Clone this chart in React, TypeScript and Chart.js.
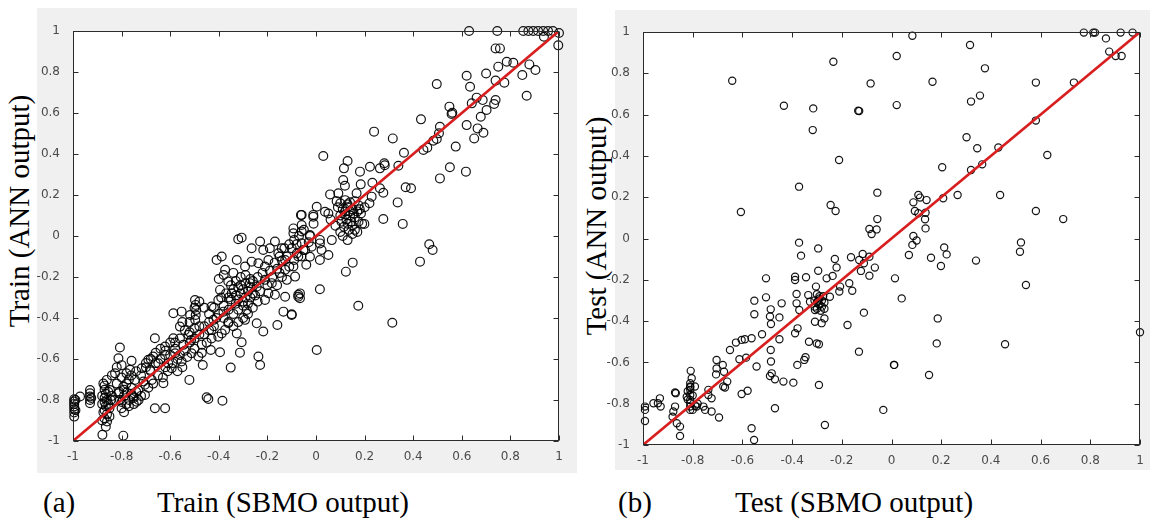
import React, { useEffect, useRef } from "react";
import { Chart, registerables } from "chart.js";

Chart.register(...registerables);

// ---------- DATA ----------
const tickValues = [-1, -0.8, -0.6, -0.4, -0.2, 0, 0.2, 0.4, 0.6, 0.8, 1];
const tickLabels = ["-1", "-0.8", "-0.6", "-0.4", "-0.2", "0", "0.2", "0.4", "0.6", "0.8", "1"];
const idealX = [-1, 1];
const idealY = [-1, 1];

// Train: SBMO output (x) vs ANN output (y)
const trainSBMO = [
  0.63, 0.746, 0.853, 0.874, 0.894, 0.914, 0.935, 0.955, 0.975, 1.0,
  0.938, 0.997, 0.739, 0.757, 0.785, 0.812, 0.75, 0.7, 0.878, 0.903, 0.849, 0.62, 0.739, 0.775, 0.634, 0.497, 0.867, 0.661, 0.686, 0.641,
  0.739, 0.733, 0.702, 0.678, 0.549, 0.561, 0.558, 0.432, 0.62, 0.665, 0.689, 0.651, 0.51, 0.506, 0.497, 0.483, 0.239, 0.316, 0.458, 0.442,
  0.575, 0.362, 0.03, 0.13, 0.115, 0.181, 0.222, 0.263, 0.281, 0.283, 0.339, 0.551, 0.617, 0.51, 0.112, 0.119, 0.184, 0.232, 0.263, 0.369,
  0.391, 0.058, 0.092, 0.277, 0.229, 0.167, 0.336,
  0.085, 0.1, 0.12, 0.14, 0.16, 0.175, 0.09, 0.11, 0.13, 0.15, 0.17, 0.185, 0.1, 0.12, 0.14, 0.16, 0.125, 0.145, 0.13, 0.15,
  0.115, 0.135, 0.16, 0.175, 0.19, 0.105, 0.14, 0.13, 0.155, 0.12,
  0.037, 0.051, -0.011, -0.062, -0.059, -0.093, 0.277, 0.199, 0.357, -0.025, 0.016, 0.065, 0.023, 0.051, -0.025, -0.052, -0.079, -0.09, 0.466, 0.48,
  0.428, 0.151, 0.123, 0.016, -0.066, -0.073, 0.174, -0.1, 0.314, 0.003,
  0.003, -0.011, -0.059, -0.025, -0.093, -0.059, 0.016, -0.059, -0.018, -0.045, -0.073, 0.016, -0.093, -0.086, -0.12, -0.073, -0.066, -0.127, -0.134, -0.1,
  -0.159, -0.127, -0.127, -0.155, -0.141, -0.169, -0.196, -0.21, -0.237, -0.265, -0.217, -0.23, -0.265, -0.292, -0.306, -0.32, -0.326, -0.21, -0.182, -0.196,
  -0.21, -0.169, -0.244, -0.272, -0.285, -0.292, -0.244, -0.217, -0.237, -0.23, -0.409, -0.388, -0.374, -0.361, -0.347, -0.395, -0.402, -0.43, -0.381, -0.422,
  -0.361, -0.43, -0.374, -0.388, -0.402, -0.326, -0.306, -0.313, -0.433, -0.395, -0.351, -0.466, -0.484, -0.45, -0.443, -0.385,
  -0.34, -0.32, -0.3, -0.28, -0.33, -0.31, -0.29, -0.27, -0.35, -0.32, -0.3, -0.28, -0.26, -0.31, -0.29, -0.33, -0.36, -0.27,
  -0.498, -0.495, -0.493, -0.495, -0.497, -0.5,
  -0.587, -0.553, -0.56, -0.518, -0.546, -0.525, -0.514, -0.512, -0.521, -0.663, -0.621, -0.621, -0.587, -0.58, -0.553, -0.594, -0.608, -0.649, -0.628, -0.676,
  -0.683, -0.717, -0.69, -0.67, -0.663, -0.621, -0.704, -0.738, -0.731, -0.704, -0.745, -0.759, -0.765, -0.807, -0.813, -0.827, -0.861, -0.848, -0.779, -0.752,
  -0.807, -0.813, -0.793, -0.879, -0.793,
  -0.78, -0.76, -0.79, -0.77, -0.75, -0.8, -0.78, -0.76, -0.79, -0.74, -0.77, -0.8,
  -0.87, -0.87, -0.865, -0.87, -0.86, -0.87, -0.865, -0.87, -0.86, -0.87, -0.86, -0.855, -0.85, -0.855,
  -0.93, -0.93, -0.93, -0.93, -0.93, -0.925,
  -0.995, -0.995, -0.995, -0.995, -0.995, -0.995, -0.995, -0.971, -0.99, -0.99,
  -0.72, -0.7, -0.68, -0.66, -0.64, -0.62, -0.6, -0.58, -0.56, -0.54, -0.52, -0.5, -0.48, -0.46, -0.44, -0.6, -0.64, -0.57, -0.53, -0.47,
  -0.42, -0.4, -0.38, -0.36, -0.34, -0.32, -0.3, -0.26, -0.24, -0.22, -0.2, -0.18, -0.16, -0.14, -0.12, -0.1, -0.08, -0.06, -0.16, -0.14,
  -0.82, -0.81, -0.8, -0.79, -0.77, -0.75, -0.73, -0.72, -0.83, -0.84,
  -0.875, -0.88, -0.88, -0.875, -0.88, -0.865, -0.85, -0.845,
  -0.84, -0.82, -0.8, -0.78, -0.76, -0.74,
  -0.71, -0.69, -0.67, -0.65, -0.63, -0.61, -0.59, -0.57, -0.55, -0.66, -0.62, -0.58, -0.7, -0.68, -0.56,
  -0.54, -0.52, -0.5, -0.48, -0.46, -0.44, -0.42, -0.5, -0.47, -0.45, -0.43, -0.41, -0.44, -0.46, -0.48, -0.52, -0.55,
  -0.39, -0.37, -0.35, -0.33, -0.31, -0.29, -0.27, -0.25, -0.23, -0.26, -0.24, -0.38, -0.36, -0.34, -0.3, -0.28, -0.32, -0.4, -0.38, -0.34,
  -0.19, -0.17, -0.15, -0.13, -0.11, -0.09, -0.07, -0.05, -0.03, -0.01, -0.15, -0.11, -0.19, -0.04,
  0.1, 0.11, 0.13, 0.15, 0.17, 0.18, 0.2, 0.22, 0.06, 0.08,
];
const trainANN = [
  1.0, 1.0, 1.0, 1.0, 1.0, 1.0, 1.0, 1.0, 1.0, 0.99,
  0.972, 0.93, 0.915, 0.915, 0.85, 0.845, 0.826, 0.793, 0.837, 0.81, 0.785, 0.782, 0.758, 0.748, 0.728, 0.741, 0.684, 0.675, 0.663, 0.647,
  0.663, 0.644, 0.615, 0.582, 0.631, 0.601, 0.595, 0.569, 0.541, 0.525, 0.504, 0.476, 0.533, 0.501, 0.473, 0.465, 0.509, 0.476, 0.431, 0.42,
  0.436, 0.406, 0.39, 0.366, 0.33, 0.314, 0.338, 0.33, 0.355, 0.345, 0.343, 0.335, 0.314, 0.281, 0.273, 0.245, 0.252, 0.26, 0.233, 0.238,
  0.233, 0.203, 0.208, 0.211, 0.192, 0.208, 0.164,
  0.17, 0.16, 0.175, 0.165, 0.17, 0.15, 0.14, 0.13, 0.14, 0.13, 0.12, 0.11, 0.1, 0.105, 0.1, 0.09, 0.08, 0.07, 0.06, 0.05,
  0.045, 0.03, 0.03, 0.07, 0.06, 0.07, 0.12, 0.155, 0.11, 0.12,
  0.118, 0.11, 0.094, 0.102, 0.054, 0.037, 0.083, 0.059, 0.059, 0.0, -0.036, -0.02, -0.068, -0.093, -0.101, -0.068, -0.085, -0.117, -0.04, -0.068,
  -0.125, -0.13, -0.174, -0.26, -0.28, -0.296, -0.34, -0.382, -0.423, -0.556,
  0.143, 0.103, 0.103, 0.005, 0.013, 0.022, -0.019, -0.035, -0.052, -0.068, -0.1, -0.117, -0.149, -0.198, -0.214, -0.287, -0.304, -0.296, -0.369, -0.385,
  -0.434, -0.165, -0.117, -0.084, -0.06, -0.027, -0.117, -0.149, -0.133, -0.125, -0.068, -0.027, -0.06, -0.149, -0.008, -0.016, -0.117, -0.214, -0.23, -0.279,
  -0.312, -0.287, -0.247, -0.23, -0.361, -0.409, -0.426, -0.466, -0.588, -0.629, -0.117, -0.1, -0.165, -0.222, -0.279, -0.263, -0.312, -0.344, -0.369, -0.409,
  -0.426, -0.458, -0.458, -0.475, -0.491, -0.475, -0.518, -0.569, -0.556, -0.567, -0.642, -0.629, -0.588, -0.787, -0.795, -0.804,
  -0.26, -0.25, -0.26, -0.27, -0.29, -0.28, -0.3, -0.3, -0.31, -0.31, -0.32, -0.33, -0.28, -0.24, -0.23, -0.33, -0.3, -0.25,
  -0.312, -0.336, -0.361, -0.385, -0.409, -0.35,
  -0.377, -0.369, -0.442, -0.385, -0.531, -0.482, -0.507, -0.572, -0.702, -0.499, -0.539, -0.58, -0.499, -0.572, -0.612, -0.645, -0.621, -0.621, -0.718, -0.702,
  -0.653, -0.645, -0.604, -0.588, -0.84, -0.84, -0.775, -0.808, -0.751, -0.726, -0.702, -0.609, -0.653, -0.544, -0.596, -0.67, -0.702, -0.751, -0.764, -0.783,
  -0.8, -0.767, -0.735, -0.97, -0.974,
  -0.72, -0.74, -0.78, -0.8, -0.79, -0.81, -0.82, -0.77, -0.75, -0.76, -0.7, -0.69,
  -0.73, -0.75, -0.77, -0.79, -0.8, -0.81, -0.83, -0.85, -0.87, -0.89, -0.905, -0.76, -0.84, -0.82,
  -0.751, -0.767, -0.783, -0.8, -0.816, -0.79,
  -0.796, -0.808, -0.819, -0.832, -0.845, -0.861, -0.881, -0.783, -0.8, -0.85,
  -0.68, -0.64, -0.66, -0.62, -0.6, -0.64, -0.58, -0.55, -0.5, -0.56, -0.47, -0.5, -0.44, -0.48, -0.42, -0.52, -0.55, -0.6, -0.59, -0.53,
  -0.35, -0.38, -0.34, -0.36, -0.38, -0.36, -0.34, -0.22, -0.2, -0.18, -0.24, -0.2, -0.16, -0.12, -0.1, -0.06, -0.04, -0.1, -0.24, -0.2,
  -0.72, -0.76, -0.84, -0.86, -0.83, -0.82, -0.8, -0.78, -0.8, -0.78,
  -0.72, -0.78, -0.82, -0.86, -0.9, -0.93, -0.88, -0.8,
  -0.68, -0.64, -0.63, -0.67, -0.68, -0.66,
  -0.71, -0.74, -0.72, -0.68, -0.69, -0.66, -0.62, -0.66, -0.64, -0.57, -0.56, -0.52, -0.62, -0.6, -0.58,
  -0.46, -0.42, -0.45, -0.48, -0.44, -0.46, -0.44, -0.55, -0.57, -0.52, -0.5, -0.4, -0.38, -0.35, -0.32, -0.52, -0.42,
  -0.3, -0.28, -0.24, -0.22, -0.2, -0.19, -0.21, -0.29, -0.27, -0.35, -0.32, -0.4, -0.42, -0.44, -0.4, -0.38, -0.42, -0.21, -0.19, -0.18,
  -0.17, -0.13, -0.1, -0.06, -0.04, -0.02, 0.0, 0.03, -0.03, 0.06, -0.18, -0.15, -0.06, -0.14,
  0.02, 0.0, -0.02, 0.01, 0.02, 0.13, 0.14, 0.16, 0.08, 0.05,
];

// Test: SBMO output (x) vs ANN output (y)
const testSBMO = [
  -0.234, 0.021, -0.641, -0.084, -0.433, -0.315, -0.134, -0.13, 0.021, -0.317,
  -0.211, -0.372, -0.057, -0.606, -0.245, -0.225, -0.057, -0.089, -0.06, -0.08,
  -0.372, -0.364, -0.295, -0.228, -0.163, -0.116, -0.13, -0.089, -0.067, -0.123,
  -0.089, -0.111, 0.014, -0.295, -0.221, -0.261, -0.237, -0.17, -0.207, -0.21,
  -0.158, -0.248, -0.388, -0.388, -0.344, -0.304, -0.382, -0.382, -0.335, -0.328,
  -0.371, -0.308, -0.281, -0.308, -0.27, -0.177, -0.111, -0.442, -0.451, -0.505,
  -0.505, -0.552, -0.552, -0.486, -0.489, -0.485, -0.521, -0.451, -0.486, -0.485,
  -0.543, -0.482, -0.489, -0.469, -0.435, -0.395, -0.388, -0.378, -0.379, -0.351,
  -0.346, -0.332, -0.301, -0.292, -0.292, -0.268, -0.469, -0.563, -0.553, -0.131,
  0.01, -0.033, -0.603, -0.59, -0.563, -0.626, -0.65, -0.612, -0.585, -0.579,
  -0.603, -0.704, -0.679, -0.704, -0.706, -0.674, -0.677, -0.67, -0.661, -0.737,
  -0.737, -0.724, -0.694, -0.75, -0.724, -0.808, -0.804, -0.81, -0.81, -0.81,
  -0.81, -0.81, -0.81, -0.81, -0.81, -0.824, -0.791, -0.784, -0.757, -0.871,
  -0.868, -0.871, -0.878, -0.881, -0.864, -0.851, -0.851, -0.932, -0.929, -0.958,
  -0.94, -0.992, -0.992, -0.992,
  -0.3, -0.29, -0.28, -0.3, -0.29, -0.28, -0.27, -0.31, -0.3, -0.285,
  -0.29, -0.275, -0.31, -0.295, -0.27,
  -0.82, -0.8, -0.79, -0.8, -0.78, -0.82, -0.81,
  0.084, 0.316, 0.376, 0.165, 0.581, 0.734, 0.356, 0.32, 0.581, 0.302,
  0.345, 0.43, 0.627, 0.365, 0.32, 0.204, 0.108, 0.115, 0.088, 0.141,
  0.208, 0.266, 0.437, 0.094, 0.108, 0.137, 0.135, 0.137, 0.581, 0.691,
  0.088, 0.101, 0.084, 0.07, 0.212, 0.222, 0.159, 0.199, 0.34, 0.521,
  0.517, 0.041, 0.541, 0.186, 0.182, 0.457, 1.0, 0.011, 0.151,
  0.774, 0.812, 0.819, 0.922, 0.97, 0.863, 0.876, 0.902, 0.926,
];
const testANN = [
  0.856, 0.884, 0.764, 0.751, 0.643, 0.63, 0.619, 0.617, 0.646, 0.525,
  0.38, 0.251, 0.222, 0.128, 0.162, 0.133, 0.094, 0.046, 0.044, 0.022,
  -0.02, -0.083, -0.048, -0.099, -0.091, -0.075, -0.104, -0.088, -0.141, -0.157,
  -0.18, -0.12, -0.193, -0.156, -0.14, -0.193, -0.181, -0.217, -0.233, -0.257,
  -0.253, -0.282, -0.185, -0.201, -0.188, -0.233, -0.269, -0.314, -0.274, -0.306,
  -0.346, -0.346, -0.41, -0.403, -0.387, -0.419, -0.359, -0.314, -0.382, -0.285,
  -0.193, -0.301, -0.367, -0.343, -0.378, -0.414, -0.464, -0.488, -0.54, -0.596,
  -0.62, -0.653, -0.666, -0.682, -0.693, -0.698, -0.459, -0.435, -0.612, -0.588,
  -0.575, -0.5, -0.508, -0.512, -0.709, -0.903, -0.822, -0.919, -0.976, -0.548,
  -0.612, -0.83, -0.491, -0.488, -0.483, -0.504, -0.54, -0.585, -0.577, -0.737,
  -0.753, -0.588, -0.612, -0.629, -0.658, -0.645, -0.717, -0.722, -0.693, -0.733,
  -0.758, -0.774, -0.867, -0.83, -0.838, -0.641, -0.677, -0.701, -0.717, -0.733,
  -0.758, -0.782, -0.798, -0.814, -0.83, -0.766, -0.717, -0.814, -0.814, -0.746,
  -0.749, -0.814, -0.838, -0.863, -0.895, -0.911, -0.956, -0.774, -0.814, -0.798,
  -0.798, -0.814, -0.83, -0.884,
  -0.27, -0.29, -0.3, -0.31, -0.32, -0.33, -0.31, -0.3, -0.34, -0.35,
  -0.28, -0.28, -0.33, -0.3, -0.34,
  -0.78, -0.76, -0.81, -0.83, -0.8, -0.74, -0.72,
  0.982, 0.937, 0.824, 0.759, 0.755, 0.755, 0.692, 0.663, 0.571, 0.49,
  0.437, 0.441, 0.404, 0.359, 0.332, 0.345, 0.211, 0.198, 0.175, 0.186,
  0.195, 0.211, 0.211, 0.133, 0.122, 0.125, 0.093, 0.049, 0.133, 0.094,
  0.012, -0.01, -0.031, -0.08, -0.043, -0.077, -0.093, -0.133, -0.107, -0.019,
  -0.064, -0.29, -0.225, -0.387, -0.508, -0.512, -0.454, -0.612, -0.661,
  0.997, 0.997, 0.997, 0.997, 0.997, 0.969, 0.905, 0.884, 0.884,
];

// ---------- HELPERS ----------
const toPoints = (xs: number[], ys: number[]) => xs.map((x, i) => ({ x, y: ys[i] }));
const fmt = (v: number) => {
  const i = tickValues.findIndex((t) => Math.abs(t - v) < 1e-9);
  return i >= 0 ? tickLabels[i] : "";
};

const boxPlugin = {
  id: "matlabBox",
  beforeDraw(chart: any) {
    const { ctx, chartArea: a } = chart;
    ctx.save();
    ctx.fillStyle = "#ffffff";
    ctx.fillRect(a.left, a.top, a.right - a.left, a.bottom - a.top);
    ctx.restore();
  },
  afterDraw(chart: any) {
    const { ctx, chartArea: a, scales } = chart;
    ctx.save();
    ctx.strokeStyle = "#2b2b2b";
    ctx.lineWidth = 1;
    const L = Math.round(a.left) + 0.5;
    const R = Math.round(a.right) - 0.5;
    const T = Math.round(a.top) + 0.5;
    const B = Math.round(a.bottom) - 0.5;
    ctx.strokeRect(L, T, R - L, B - T);
    const len = 5;
    ctx.beginPath();
    tickValues.forEach((v) => {
      const px = Math.round(scales.x.getPixelForValue(v)) + 0.5;
      ctx.moveTo(px, B);
      ctx.lineTo(px, B - len);
      ctx.moveTo(px, T);
      ctx.lineTo(px, T + len);
      const py = Math.round(scales.y.getPixelForValue(v)) + 0.5;
      ctx.moveTo(L, py);
      ctx.lineTo(L + len, py);
      ctx.moveTo(R, py);
      ctx.lineTo(R - len, py);
    });
    ctx.stroke();
    ctx.restore();
  },
};

type PanelProps = {
  xs: number[];
  ys: number[];
  width: number;
  height: number;
  padTop: number;
  padRight: number;
  yAxisWidth: number;
  xAxisHeight: number;
  xLabelPad: number;
  radius: number;
};

function Panel(p: PanelProps) {
  const ref = useRef<HTMLCanvasElement | null>(null);
  useEffect(() => {
    if (!ref.current) return;
    const tickFont = { family: "'DejaVu Sans', sans-serif", size: 12 };
    const chart = new Chart(ref.current, {
      type: "scatter",
      data: {
        datasets: [
          {
            type: "line",
            data: toPoints(idealX, idealY),
            borderColor: "#d81e1e",
            borderWidth: 2.6,
            pointRadius: 0,
            showLine: true,
            fill: false,
            order: 0,
          } as any,
          {
            data: toPoints(p.xs, p.ys),
            pointStyle: "circle",
            pointRadius: p.radius,
            pointBorderWidth: 1.2,
            borderColor: "rgba(0,0,0,0.92)",
            backgroundColor: "rgba(0,0,0,0)",
            showLine: false,
            clip: false,
            order: 1,
          } as any,
        ],
      },
      options: {
        responsive: false,
        animation: false,
        devicePixelRatio: 1,
        layout: { padding: { top: p.padTop, right: p.padRight, left: 0, bottom: 0 } },
        plugins: { legend: { display: false }, tooltip: { enabled: false }, title: { display: false } },
        scales: {
          x: {
            type: "linear",
            min: -1,
            max: 1,
            grid: { display: false },
            border: { display: false },
            afterBuildTicks: (s: any) => {
              s.ticks = tickValues.map((v) => ({ value: v }));
            },
            afterFit: (s: any) => {
              s.height = p.xAxisHeight;
            },
            ticks: {
              autoSkip: false,
              maxRotation: 0,
              padding: p.xLabelPad,
              color: "#4a4a4a",
              font: tickFont,
              callback: (v: any) => fmt(Number(v)),
            },
          },
          y: {
            type: "linear",
            min: -1,
            max: 1,
            grid: { display: false },
            border: { display: false },
            afterBuildTicks: (s: any) => {
              s.ticks = tickValues.map((v) => ({ value: v }));
            },
            afterFit: (s: any) => {
              s.width = p.yAxisWidth;
            },
            ticks: {
              autoSkip: false,
              padding: 5,
              color: "#4a4a4a",
              font: tickFont,
              callback: (v: any) => fmt(Number(v)),
            },
          },
        },
      } as any,
      plugins: [boxPlugin],
    });
    return () => chart.destroy();
  }, []);
  return (
    <canvas
      ref={ref}
      width={p.width}
      height={p.height}
      style={{ width: p.width, height: p.height, display: "block" }}
    />
  );
}

const serif = "'Liberation Serif', 'Times New Roman', serif";

export default function App() {
  const caption: React.CSSProperties = {
    position: "absolute",
    top: 488,
    fontFamily: serif,
    fontSize: 29,
    lineHeight: "29px",
    color: "#000",
    whiteSpace: "nowrap",
  };
  const vtitle: React.CSSProperties = {
    position: "absolute",
    fontFamily: serif,
    fontSize: 29,
    lineHeight: "29px",
    color: "#000",
    whiteSpace: "nowrap",
    transform: "translate(-50%, -50%) rotate(-90deg)",
  };
  return (
    <div style={{ position: "absolute", left: 0, top: 0, width: 1152, height: 521, background: "#fff", overflow: "hidden" }}>
      <div style={{ position: "absolute", left: 37, top: 8, width: 540, height: 465, background: "#f0f0f0" }} />
      <div style={{ position: "absolute", left: 615, top: 10, width: 535, height: 460, background: "#f0f0f0" }} />
      <div style={{ ...vtitle, left: 19, top: 211 }}>Train (ANN output)</div>
      <div style={{ ...vtitle, left: 596, top: 226 }}>Test (ANN output)</div>
      <div style={{ position: "absolute", left: 37, top: 8 }}>
        <Panel xs={trainSBMO} ys={trainANN} width={540} height={465} padTop={23} padRight={18} yAxisWidth={36} xAxisHeight={32} xLabelPad={1} radius={4.4} />
      </div>
      <div style={{ position: "absolute", left: 600, top: 10 }}>
        <Panel xs={testSBMO} ys={testANN} width={550} height={460} padTop={22} padRight={10} yAxisWidth={43} xAxisHeight={25} xLabelPad={1} radius={3.6} />
      </div>
      <div style={{ ...caption, left: 43 }}>(a)</div>
      <div style={{ ...caption, left: 157 }}>Train (SBMO output)</div>
      <div style={{ ...caption, left: 618 }}>(b)</div>
      <div style={{ ...caption, left: 735 }}>Test (SBMO output)</div>
    </div>
  );
}
